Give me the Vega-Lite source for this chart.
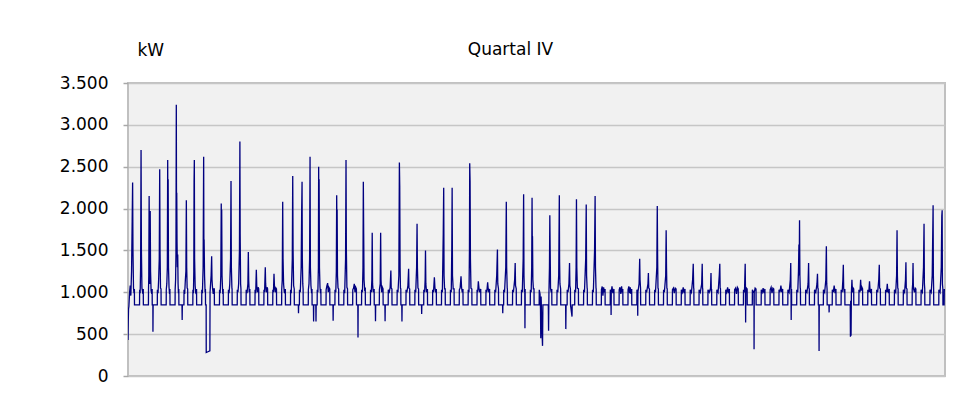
{
"$schema": "https://vega.github.io/schema/vega-lite/v6.json",
"width": 817, "height": 293,
"autosize": {"type": "none"},
"padding": {"left": 128, "top": 83, "right": 8, "bottom": 25},
"background": "white",
"title": {"text": "Quartal IV", "fontSize": 17, "fontWeight": "normal", "font": "DejaVu Sans", "color": "black", "anchor": "middle", "frame": "group", "baseline": "alphabetic", "offset": 0, "dx": -26, "dy": 31},
"config": {"view": {"fill": "#f1f1f1", "stroke": "#c0c0c0", "strokeWidth": 2}},
"data": {"values": [
{"day":0.00,"kW":430},{"day":0.03,"kW":650},{"day":0.06,"kW":800},{"day":0.10,"kW":830},{"day":0.18,"kW":1000},{"day":0.25,"kW":1080},{"day":0.32,"kW":960},{"day":0.40,"kW":1250},{"day":0.47,"kW":1850},{"day":0.52,"kW":2310},{"day":0.56,"kW":1500},{"day":0.62,"kW":1050},{"day":0.68,"kW":990},{"day":0.72,"kW":1040},{"day":0.73,"kW":850},
{"day":1.30,"kW":850},{"day":1.31,"kW":1030},{"day":1.37,"kW":990},{"day":1.42,"kW":1300},{"day":1.47,"kW":2700},{"day":1.51,"kW":1500},{"day":1.57,"kW":1050},{"day":1.68,"kW":980},{"day":1.72,"kW":1040},{"day":1.73,"kW":850},
{"day":2.30,"kW":850},{"day":2.31,"kW":1030},{"day":2.34,"kW":1200},{"day":2.38,"kW":2150},{"day":2.42,"kW":1400},{"day":2.46,"kW":1100},{"day":2.50,"kW":1970},{"day":2.54,"kW":1250},{"day":2.60,"kW":1020},{"day":2.68,"kW":980},{"day":2.72,"kW":1040},{"day":2.73,"kW":850},{"day":2.80,"kW":850},{"day":2.81,"kW":530},{"day":2.83,"kW":850},
{"day":3.30,"kW":850},{"day":3.31,"kW":1030},{"day":3.38,"kW":990},{"day":3.45,"kW":1150},{"day":3.52,"kW":1400},{"day":3.57,"kW":2470},{"day":3.61,"kW":1500},{"day":3.66,"kW":1050},{"day":3.72,"kW":1040},{"day":3.73,"kW":850},
{"day":4.30,"kW":850},{"day":4.31,"kW":1030},{"day":4.37,"kW":1100},{"day":4.43,"kW":1300},{"day":4.47,"kW":2580},{"day":4.50,"kW":1400},{"day":4.52,"kW":2350},{"day":4.56,"kW":1300},{"day":4.62,"kW":1060},{"day":4.68,"kW":980},{"day":4.72,"kW":1040},{"day":4.73,"kW":850},
{"day":5.30,"kW":850},{"day":5.31,"kW":1030},{"day":5.36,"kW":1150},{"day":5.40,"kW":1450},{"day":5.44,"kW":3240},{"day":5.47,"kW":1600},{"day":5.49,"kW":2190},{"day":5.52,"kW":1610},{"day":5.56,"kW":1300},{"day":5.60,"kW":1450},{"day":5.64,"kW":1100},{"day":5.68,"kW":990},{"day":5.72,"kW":1040},{"day":5.73,"kW":850},
{"day":6.08,"kW":850},{"day":6.10,"kW":670},{"day":6.12,"kW":850},{"day":6.30,"kW":850},{"day":6.31,"kW":1030},{"day":6.38,"kW":980},{"day":6.46,"kW":1150},{"day":6.52,"kW":1250},{"day":6.57,"kW":2100},{"day":6.61,"kW":1300},{"day":6.66,"kW":1050},{"day":6.72,"kW":1040},{"day":6.73,"kW":850},
{"day":7.30,"kW":850},{"day":7.31,"kW":1030},{"day":7.37,"kW":990},{"day":7.41,"kW":1250},{"day":7.44,"kW":2330},{"day":7.47,"kW":2580},{"day":7.50,"kW":1400},{"day":7.56,"kW":1080},{"day":7.62,"kW":1000},{"day":7.68,"kW":980},{"day":7.72,"kW":1040},{"day":7.73,"kW":850},
{"day":8.30,"kW":850},{"day":8.31,"kW":1030},{"day":8.38,"kW":990},{"day":8.46,"kW":1300},{"day":8.52,"kW":2620},{"day":8.55,"kW":1400},{"day":8.57,"kW":1630},{"day":8.62,"kW":1200},{"day":8.68,"kW":1000},{"day":8.72,"kW":1040},{"day":8.73,"kW":850},{"day":8.80,"kW":850},{"day":8.81,"kW":280},{"day":9.00,"kW":290},{"day":9.22,"kW":300},
{"day":9.24,"kW":1000},{"day":9.30,"kW":1100},{"day":9.36,"kW":1200},{"day":9.42,"kW":1430},{"day":9.46,"kW":1150},{"day":9.52,"kW":1050},{"day":9.60,"kW":980},{"day":9.66,"kW":1040},{"day":9.72,"kW":1040},{"day":9.73,"kW":850},
{"day":10.30,"kW":850},{"day":10.31,"kW":1030},{"day":10.38,"kW":990},{"day":10.45,"kW":1200},{"day":10.50,"kW":2060},{"day":10.53,"kW":1500},{"day":10.55,"kW":1990},{"day":10.59,"kW":1200},{"day":10.64,"kW":1050},{"day":10.68,"kW":980},{"day":10.72,"kW":1040},{"day":10.73,"kW":850},
{"day":11.30,"kW":850},{"day":11.31,"kW":1030},{"day":11.38,"kW":990},{"day":11.46,"kW":1100},{"day":11.55,"kW":1400},{"day":11.60,"kW":2330},{"day":11.64,"kW":1300},{"day":11.70,"kW":1050},{"day":11.72,"kW":1040},{"day":11.73,"kW":850},
{"day":12.30,"kW":850},{"day":12.31,"kW":1030},{"day":12.38,"kW":1000},{"day":12.46,"kW":1100},{"day":12.55,"kW":1500},{"day":12.60,"kW":2800},{"day":12.63,"kW":1700},{"day":12.68,"kW":1100},{"day":12.72,"kW":1040},{"day":12.73,"kW":850},
{"day":13.30,"kW":850},{"day":13.31,"kW":1030},{"day":13.40,"kW":990},{"day":13.50,"kW":1100},{"day":13.55,"kW":1480},{"day":13.59,"kW":1150},{"day":13.65,"kW":1000},{"day":13.72,"kW":1040},{"day":13.73,"kW":850},
{"day":14.30,"kW":850},{"day":14.31,"kW":1030},{"day":14.38,"kW":990},{"day":14.45,"kW":1270},{"day":14.50,"kW":1080},{"day":14.58,"kW":1000},{"day":14.66,"kW":1060},{"day":14.72,"kW":1040},{"day":14.73,"kW":850},
{"day":15.30,"kW":850},{"day":15.31,"kW":1030},{"day":15.38,"kW":1000},{"day":15.46,"kW":1300},{"day":15.50,"kW":1100},{"day":15.58,"kW":1000},{"day":15.66,"kW":1060},{"day":15.72,"kW":1040},{"day":15.73,"kW":850},
{"day":16.30,"kW":850},{"day":16.31,"kW":1030},{"day":16.38,"kW":1000},{"day":16.44,"kW":1220},{"day":16.49,"kW":1080},{"day":16.58,"kW":1000},{"day":16.66,"kW":1050},{"day":16.72,"kW":1040},{"day":16.73,"kW":850},
{"day":17.30,"kW":850},{"day":17.31,"kW":1030},{"day":17.37,"kW":1150},{"day":17.42,"kW":2080},{"day":17.46,"kW":1400},{"day":17.52,"kW":1100},{"day":17.60,"kW":1000},{"day":17.68,"kW":990},{"day":17.72,"kW":1040},{"day":17.73,"kW":850},
{"day":18.30,"kW":850},{"day":18.31,"kW":1030},{"day":18.38,"kW":990},{"day":18.45,"kW":1200},{"day":18.50,"kW":1400},{"day":18.55,"kW":2390},{"day":18.59,"kW":1500},{"day":18.65,"kW":1080},{"day":18.72,"kW":1040},{"day":18.73,"kW":850},
{"day":19.18,"kW":850},{"day":19.20,"kW":750},{"day":19.22,"kW":850},{"day":19.30,"kW":850},{"day":19.31,"kW":1030},{"day":19.40,"kW":1000},{"day":19.50,"kW":1300},{"day":19.56,"kW":2000},{"day":19.60,"kW":2320},{"day":19.63,"kW":1400},{"day":19.68,"kW":1100},{"day":19.72,"kW":1040},{"day":19.73,"kW":850},
{"day":20.30,"kW":850},{"day":20.31,"kW":1030},{"day":20.38,"kW":1100},{"day":20.45,"kW":1400},{"day":20.50,"kW":2620},{"day":20.54,"kW":1300},{"day":20.60,"kW":1080},{"day":20.68,"kW":990},{"day":20.72,"kW":1040},{"day":20.73,"kW":850},{"day":20.88,"kW":850},{"day":20.90,"kW":650},{"day":20.92,"kW":850},
{"day":21.15,"kW":850},{"day":21.17,"kW":650},{"day":21.19,"kW":850},{"day":21.30,"kW":850},{"day":21.31,"kW":1030},{"day":21.38,"kW":1000},{"day":21.44,"kW":1300},{"day":21.47,"kW":2500},{"day":21.50,"kW":1500},{"day":21.52,"kW":2350},{"day":21.56,"kW":1300},{"day":21.62,"kW":1060},{"day":21.68,"kW":990},{"day":21.72,"kW":1040},{"day":21.73,"kW":850},
{"day":22.30,"kW":850},{"day":22.31,"kW":1030},{"day":22.40,"kW":1080},{"day":22.48,"kW":1110},{"day":22.55,"kW":1000},{"day":22.62,"kW":1060},{"day":22.72,"kW":1040},{"day":22.73,"kW":850},
{"day":23.08,"kW":850},{"day":23.10,"kW":660},{"day":23.12,"kW":850},{"day":23.30,"kW":850},{"day":23.31,"kW":1030},{"day":23.40,"kW":1000},{"day":23.46,"kW":1250},{"day":23.50,"kW":2160},{"day":23.53,"kW":1700},{"day":23.55,"kW":1990},{"day":23.59,"kW":1200},{"day":23.65,"kW":1050},{"day":23.72,"kW":1040},{"day":23.73,"kW":850},
{"day":24.30,"kW":850},{"day":24.31,"kW":1030},{"day":24.40,"kW":990},{"day":24.50,"kW":1400},{"day":24.55,"kW":2580},{"day":24.59,"kW":1500},{"day":24.65,"kW":1060},{"day":24.72,"kW":1040},{"day":24.73,"kW":850},
{"day":25.30,"kW":850},{"day":25.31,"kW":1030},{"day":25.40,"kW":1050},{"day":25.48,"kW":1100},{"day":25.56,"kW":1000},{"day":25.64,"kW":1060},{"day":25.72,"kW":1040},{"day":25.73,"kW":850},{"day":25.88,"kW":850},{"day":25.90,"kW":460},{"day":25.92,"kW":850},
{"day":26.30,"kW":850},{"day":26.31,"kW":1030},{"day":26.40,"kW":1000},{"day":26.46,"kW":1300},{"day":26.50,"kW":2320},{"day":26.54,"kW":1700},{"day":26.58,"kW":1150},{"day":26.65,"kW":1030},{"day":26.72,"kW":1040},{"day":26.73,"kW":850},
{"day":27.30,"kW":850},{"day":27.31,"kW":1030},{"day":27.40,"kW":1000},{"day":27.46,"kW":1150},{"day":27.50,"kW":1710},{"day":27.54,"kW":1100},{"day":27.62,"kW":1000},{"day":27.72,"kW":1040},{"day":27.73,"kW":850},{"day":27.85,"kW":850},{"day":27.87,"kW":655},{"day":27.89,"kW":850},
{"day":28.30,"kW":850},{"day":28.31,"kW":1030},{"day":28.40,"kW":1100},{"day":28.45,"kW":1710},{"day":28.49,"kW":1150},{"day":28.56,"kW":1000},{"day":28.64,"kW":1060},{"day":28.72,"kW":1040},{"day":28.73,"kW":850},{"day":28.93,"kW":850},{"day":28.95,"kW":655},{"day":28.97,"kW":850},
{"day":29.30,"kW":850},{"day":29.31,"kW":1030},{"day":29.40,"kW":990},{"day":29.52,"kW":1060},{"day":29.60,"kW":1260},{"day":29.64,"kW":1050},{"day":29.72,"kW":1040},{"day":29.73,"kW":850},
{"day":30.30,"kW":850},{"day":30.31,"kW":1030},{"day":30.40,"kW":1000},{"day":30.50,"kW":1200},{"day":30.56,"kW":2550},{"day":30.60,"kW":2270},{"day":30.64,"kW":1300},{"day":30.68,"kW":1050},{"day":30.72,"kW":1040},{"day":30.73,"kW":850},{"day":30.83,"kW":850},{"day":30.85,"kW":650},{"day":30.87,"kW":850},
{"day":31.30,"kW":850},{"day":31.31,"kW":1030},{"day":31.40,"kW":1000},{"day":31.52,"kW":1080},{"day":31.60,"kW":1280},{"day":31.64,"kW":1050},{"day":31.72,"kW":1040},{"day":31.73,"kW":850},
{"day":32.30,"kW":850},{"day":32.31,"kW":1030},{"day":32.40,"kW":1000},{"day":32.50,"kW":1300},{"day":32.55,"kW":1820},{"day":32.59,"kW":1300},{"day":32.65,"kW":1050},{"day":32.72,"kW":1040},{"day":32.73,"kW":850},
{"day":33.05,"kW":850},{"day":33.07,"kW":740},{"day":33.09,"kW":850},{"day":33.30,"kW":850},{"day":33.31,"kW":1030},{"day":33.40,"kW":1000},{"day":33.46,"kW":1150},{"day":33.50,"kW":1500},{"day":33.54,"kW":1100},{"day":33.62,"kW":1000},{"day":33.72,"kW":1040},{"day":33.73,"kW":850},
{"day":34.30,"kW":850},{"day":34.31,"kW":1030},{"day":34.40,"kW":1000},{"day":34.50,"kW":1180},{"day":34.56,"kW":1060},{"day":34.64,"kW":1000},{"day":34.72,"kW":1040},{"day":34.73,"kW":850},
{"day":35.30,"kW":850},{"day":35.31,"kW":1030},{"day":35.40,"kW":1000},{"day":35.50,"kW":1700},{"day":35.55,"kW":2250},{"day":35.59,"kW":1200},{"day":35.65,"kW":1040},{"day":35.72,"kW":1040},{"day":35.73,"kW":850},
{"day":36.30,"kW":850},{"day":36.31,"kW":1030},{"day":36.40,"kW":1000},{"day":36.46,"kW":1500},{"day":36.50,"kW":2250},{"day":36.54,"kW":1200},{"day":36.62,"kW":1040},{"day":36.72,"kW":1040},{"day":36.73,"kW":850},
{"day":37.30,"kW":850},{"day":37.31,"kW":1030},{"day":37.40,"kW":1050},{"day":37.50,"kW":1190},{"day":37.56,"kW":1060},{"day":37.64,"kW":1000},{"day":37.72,"kW":1040},{"day":37.73,"kW":850},
{"day":38.30,"kW":850},{"day":38.31,"kW":1030},{"day":38.40,"kW":1000},{"day":38.45,"kW":1500},{"day":38.48,"kW":2540},{"day":38.52,"kW":2330},{"day":38.56,"kW":1400},{"day":38.62,"kW":1050},{"day":38.72,"kW":1040},{"day":38.73,"kW":850},
{"day":39.30,"kW":850},{"day":39.31,"kW":1030},{"day":39.38,"kW":1000},{"day":39.45,"kW":1130},{"day":39.52,"kW":1050},{"day":39.62,"kW":1000},{"day":39.72,"kW":1040},{"day":39.73,"kW":850},
{"day":40.30,"kW":850},{"day":40.31,"kW":1030},{"day":40.40,"kW":1000},{"day":40.50,"kW":1120},{"day":40.56,"kW":1040},{"day":40.64,"kW":1000},{"day":40.72,"kW":1040},{"day":40.73,"kW":850},
{"day":41.30,"kW":850},{"day":41.31,"kW":1030},{"day":41.40,"kW":1000},{"day":41.52,"kW":1200},{"day":41.60,"kW":1510},{"day":41.64,"kW":1100},{"day":41.72,"kW":1040},{"day":41.73,"kW":850},
{"day":42.18,"kW":850},{"day":42.20,"kW":750},{"day":42.22,"kW":850},{"day":42.30,"kW":850},{"day":42.31,"kW":1030},{"day":42.40,"kW":1000},{"day":42.54,"kW":1300},{"day":42.60,"kW":2080},{"day":42.64,"kW":1300},{"day":42.70,"kW":1050},{"day":42.72,"kW":1040},{"day":42.73,"kW":850},
{"day":43.30,"kW":850},{"day":43.31,"kW":1030},{"day":43.40,"kW":1000},{"day":43.54,"kW":1150},{"day":43.60,"kW":1350},{"day":43.64,"kW":1080},{"day":43.72,"kW":1040},{"day":43.73,"kW":850},
{"day":44.30,"kW":850},{"day":44.31,"kW":1030},{"day":44.40,"kW":1000},{"day":44.50,"kW":1400},{"day":44.55,"kW":2170},{"day":44.59,"kW":1200},{"day":44.64,"kW":1000},{"day":44.68,"kW":1020},{"day":44.70,"kW":570},{"day":44.72,"kW":1040},{"day":44.73,"kW":850},
{"day":45.30,"kW":850},{"day":45.31,"kW":1030},{"day":45.40,"kW":1000},{"day":45.46,"kW":1300},{"day":45.50,"kW":2130},{"day":45.53,"kW":1500},{"day":45.55,"kW":1670},{"day":45.59,"kW":1150},{"day":45.65,"kW":1040},{"day":45.72,"kW":1040},{"day":45.73,"kW":850},
{"day":46.30,"kW":850},{"day":46.31,"kW":1030},{"day":46.40,"kW":980},{"day":46.45,"kW":800},{"day":46.48,"kW":450},{"day":46.52,"kW":950},{"day":46.58,"kW":700},{"day":46.64,"kW":470},{"day":46.68,"kW":360},{"day":46.72,"kW":850},
{"day":47.30,"kW":850},{"day":47.33,"kW":850},{"day":47.36,"kW":540},{"day":47.40,"kW":1000},{"day":47.46,"kW":1300},{"day":47.50,"kW":1920},{"day":47.54,"kW":1500},{"day":47.58,"kW":1050},{"day":47.66,"kW":1000},{"day":47.72,"kW":1040},{"day":47.73,"kW":850},
{"day":48.30,"kW":850},{"day":48.31,"kW":1030},{"day":48.40,"kW":1000},{"day":48.50,"kW":1200},{"day":48.57,"kW":2160},{"day":48.60,"kW":1370},{"day":48.64,"kW":1100},{"day":48.72,"kW":1040},{"day":48.73,"kW":850},
{"day":49.28,"kW":850},{"day":49.30,"kW":560},{"day":49.33,"kW":850},{"day":49.45,"kW":850},{"day":49.46,"kW":1030},{"day":49.55,"kW":1000},{"day":49.65,"kW":1100},{"day":49.72,"kW":1350},{"day":49.76,"kW":1080},{"day":49.82,"kW":1040},{"day":49.83,"kW":850},
{"day":50.00,"kW":710},{"day":50.02,"kW":850},{"day":50.30,"kW":850},{"day":50.31,"kW":1030},{"day":50.40,"kW":1000},{"day":50.46,"kW":1300},{"day":50.50,"kW":2110},{"day":50.54,"kW":1300},{"day":50.60,"kW":1050},{"day":50.72,"kW":1040},{"day":50.73,"kW":850},
{"day":51.30,"kW":850},{"day":51.31,"kW":1030},{"day":51.40,"kW":1000},{"day":51.54,"kW":1400},{"day":51.60,"kW":2050},{"day":51.64,"kW":1200},{"day":51.70,"kW":1050},{"day":51.72,"kW":1040},{"day":51.73,"kW":850},
{"day":52.30,"kW":850},{"day":52.31,"kW":1030},{"day":52.40,"kW":1000},{"day":52.54,"kW":1500},{"day":52.60,"kW":2150},{"day":52.64,"kW":1300},{"day":52.70,"kW":1050},{"day":52.72,"kW":1040},{"day":52.73,"kW":850},
{"day":53.30,"kW":850},{"day":53.31,"kW":1030},{"day":53.40,"kW":1070},{"day":53.48,"kW":960},{"day":53.56,"kW":1060},{"day":53.64,"kW":1000},{"day":53.72,"kW":1040},{"day":53.73,"kW":850},
{"day":54.30,"kW":850},{"day":54.31,"kW":1030},{"day":54.38,"kW":1000},{"day":54.40,"kW":730},{"day":54.42,"kW":1000},{"day":54.50,"kW":1070},{"day":54.60,"kW":990},{"day":54.72,"kW":1040},{"day":54.73,"kW":850},
{"day":55.30,"kW":850},{"day":55.31,"kW":1030},{"day":55.40,"kW":1060},{"day":55.50,"kW":980},{"day":55.58,"kW":1070},{"day":55.66,"kW":1000},{"day":55.72,"kW":1040},{"day":55.73,"kW":850},
{"day":56.30,"kW":850},{"day":56.31,"kW":1030},{"day":56.40,"kW":1070},{"day":56.48,"kW":990},{"day":56.56,"kW":1060},{"day":56.64,"kW":980},{"day":56.72,"kW":1040},{"day":56.73,"kW":850},
{"day":57.30,"kW":850},{"day":57.31,"kW":1030},{"day":57.38,"kW":1000},{"day":57.40,"kW":720},{"day":57.42,"kW":1000},{"day":57.55,"kW":1100},{"day":57.62,"kW":1400},{"day":57.66,"kW":1150},{"day":57.72,"kW":1040},{"day":57.73,"kW":850},
{"day":58.30,"kW":850},{"day":58.31,"kW":1030},{"day":58.40,"kW":1000},{"day":58.55,"kW":1100},{"day":58.60,"kW":1230},{"day":58.64,"kW":1050},{"day":58.72,"kW":1040},{"day":58.73,"kW":850},
{"day":59.30,"kW":850},{"day":59.31,"kW":1030},{"day":59.40,"kW":1000},{"day":59.55,"kW":1300},{"day":59.60,"kW":2030},{"day":59.64,"kW":1400},{"day":59.68,"kW":1050},{"day":59.72,"kW":1040},{"day":59.73,"kW":850},
{"day":60.30,"kW":850},{"day":60.31,"kW":1030},{"day":60.40,"kW":1000},{"day":60.55,"kW":1200},{"day":60.60,"kW":1740},{"day":60.64,"kW":1300},{"day":60.68,"kW":1050},{"day":60.72,"kW":1040},{"day":60.73,"kW":850},
{"day":61.30,"kW":850},{"day":61.31,"kW":1030},{"day":61.42,"kW":1050},{"day":61.52,"kW":990},{"day":61.62,"kW":1050},{"day":61.72,"kW":1040},{"day":61.73,"kW":850},
{"day":62.30,"kW":850},{"day":62.31,"kW":1030},{"day":62.42,"kW":1000},{"day":62.52,"kW":1060},{"day":62.62,"kW":990},{"day":62.72,"kW":1040},{"day":62.73,"kW":850},
{"day":63.30,"kW":850},{"day":63.31,"kW":1030},{"day":63.45,"kW":1000},{"day":63.58,"kW":1150},{"day":63.65,"kW":1340},{"day":63.70,"kW":1050},{"day":63.72,"kW":1040},{"day":63.73,"kW":850},
{"day":64.30,"kW":850},{"day":64.31,"kW":1030},{"day":64.45,"kW":1000},{"day":64.60,"kW":1100},{"day":64.66,"kW":1340},{"day":64.70,"kW":1050},{"day":64.72,"kW":1040},{"day":64.73,"kW":850},
{"day":65.30,"kW":850},{"day":65.31,"kW":1030},{"day":65.45,"kW":1000},{"day":65.60,"kW":1050},{"day":65.65,"kW":1230},{"day":65.69,"kW":1000},{"day":65.72,"kW":1040},{"day":65.73,"kW":850},
{"day":66.30,"kW":850},{"day":66.31,"kW":1030},{"day":66.45,"kW":1000},{"day":66.58,"kW":1200},{"day":66.64,"kW":1340},{"day":66.68,"kW":1050},{"day":66.72,"kW":1040},{"day":66.73,"kW":850},
{"day":67.30,"kW":850},{"day":67.31,"kW":1030},{"day":67.42,"kW":1000},{"day":67.52,"kW":1060},{"day":67.62,"kW":990},{"day":67.72,"kW":1040},{"day":67.73,"kW":850},
{"day":68.30,"kW":850},{"day":68.31,"kW":1030},{"day":68.42,"kW":1050},{"day":68.52,"kW":980},{"day":68.62,"kW":1060},{"day":68.72,"kW":1040},{"day":68.73,"kW":850},
{"day":69.30,"kW":850},{"day":69.31,"kW":1030},{"day":69.42,"kW":1000},{"day":69.50,"kW":1340},{"day":69.53,"kW":1050},{"day":69.55,"kW":640},{"day":69.57,"kW":1000},{"day":69.64,"kW":1050},{"day":69.72,"kW":1040},{"day":69.73,"kW":850},
{"day":70.30,"kW":850},{"day":70.31,"kW":1030},{"day":70.45,"kW":1000},{"day":70.49,"kW":1000},{"day":70.50,"kW":320},{"day":70.52,"kW":1000},{"day":70.62,"kW":1050},{"day":70.72,"kW":1040},{"day":70.73,"kW":850},
{"day":71.30,"kW":850},{"day":71.31,"kW":1030},{"day":71.42,"kW":1000},{"day":71.52,"kW":1050},{"day":71.62,"kW":990},{"day":71.72,"kW":1040},{"day":71.73,"kW":850},
{"day":72.30,"kW":850},{"day":72.31,"kW":1030},{"day":72.42,"kW":1060},{"day":72.52,"kW":990},{"day":72.62,"kW":1050},{"day":72.72,"kW":1040},{"day":72.73,"kW":850},
{"day":73.30,"kW":850},{"day":73.31,"kW":1030},{"day":73.42,"kW":1000},{"day":73.52,"kW":1080},{"day":73.62,"kW":1000},{"day":73.72,"kW":1040},{"day":73.73,"kW":850},
{"day":74.30,"kW":850},{"day":74.31,"kW":1030},{"day":74.45,"kW":1000},{"day":74.58,"kW":1150},{"day":74.63,"kW":1350},{"day":74.66,"kW":1000},{"day":74.68,"kW":670},{"day":74.70,"kW":1000},{"day":74.72,"kW":1040},{"day":74.73,"kW":850},
{"day":75.30,"kW":850},{"day":75.31,"kW":1030},{"day":75.42,"kW":1000},{"day":75.50,"kW":1250},{"day":75.55,"kW":1570},{"day":75.58,"kW":1200},{"day":75.62,"kW":1860},{"day":75.66,"kW":1200},{"day":75.70,"kW":1050},{"day":75.72,"kW":1040},{"day":75.73,"kW":850},
{"day":76.30,"kW":850},{"day":76.31,"kW":1030},{"day":76.45,"kW":1000},{"day":76.58,"kW":1100},{"day":76.64,"kW":1350},{"day":76.68,"kW":1050},{"day":76.72,"kW":1040},{"day":76.73,"kW":850},
{"day":77.30,"kW":850},{"day":77.31,"kW":1030},{"day":77.45,"kW":1000},{"day":77.58,"kW":1100},{"day":77.64,"kW":1220},{"day":77.68,"kW":1050},{"day":77.72,"kW":1040},{"day":77.73,"kW":850},{"day":77.80,"kW":850},{"day":77.82,"kW":300},{"day":77.84,"kW":850},
{"day":78.30,"kW":850},{"day":78.31,"kW":1030},{"day":78.45,"kW":1000},{"day":78.58,"kW":1150},{"day":78.64,"kW":1550},{"day":78.68,"kW":1100},{"day":78.72,"kW":1040},{"day":78.73,"kW":850},{"day":78.93,"kW":850},{"day":78.95,"kW":760},{"day":78.97,"kW":850},
{"day":79.30,"kW":850},{"day":79.31,"kW":1030},{"day":79.42,"kW":1000},{"day":79.52,"kW":1080},{"day":79.62,"kW":990},{"day":79.72,"kW":1040},{"day":79.73,"kW":850},
{"day":80.30,"kW":850},{"day":80.31,"kW":1030},{"day":80.42,"kW":1000},{"day":80.50,"kW":1150},{"day":80.55,"kW":1330},{"day":80.59,"kW":1050},{"day":80.66,"kW":1000},{"day":80.72,"kW":1040},{"day":80.73,"kW":850},
{"day":81.30,"kW":850},{"day":81.33,"kW":850},{"day":81.35,"kW":470},{"day":81.38,"kW":900},{"day":81.42,"kW":480},{"day":81.46,"kW":1000},{"day":81.52,"kW":1150},{"day":81.58,"kW":1000},{"day":81.66,"kW":1050},{"day":81.72,"kW":1040},{"day":81.73,"kW":850},
{"day":82.30,"kW":850},{"day":82.31,"kW":1030},{"day":82.42,"kW":1000},{"day":82.50,"kW":1150},{"day":82.56,"kW":1020},{"day":82.64,"kW":1060},{"day":82.72,"kW":1040},{"day":82.73,"kW":850},
{"day":83.30,"kW":850},{"day":83.31,"kW":1030},{"day":83.42,"kW":1000},{"day":83.50,"kW":1130},{"day":83.56,"kW":1020},{"day":83.64,"kW":990},{"day":83.72,"kW":1040},{"day":83.73,"kW":850},
{"day":84.30,"kW":850},{"day":84.31,"kW":1030},{"day":84.42,"kW":1000},{"day":84.54,"kW":1150},{"day":84.60,"kW":1330},{"day":84.64,"kW":1050},{"day":84.72,"kW":1040},{"day":84.73,"kW":850},
{"day":85.30,"kW":850},{"day":85.31,"kW":1030},{"day":85.42,"kW":1000},{"day":85.50,"kW":1100},{"day":85.56,"kW":1020},{"day":85.64,"kW":990},{"day":85.72,"kW":1040},{"day":85.73,"kW":850},
{"day":86.30,"kW":850},{"day":86.31,"kW":1030},{"day":86.45,"kW":1000},{"day":86.55,"kW":1200},{"day":86.60,"kW":1740},{"day":86.64,"kW":1200},{"day":86.68,"kW":1050},{"day":86.72,"kW":1040},{"day":86.73,"kW":850},
{"day":87.30,"kW":850},{"day":87.31,"kW":1030},{"day":87.45,"kW":1000},{"day":87.55,"kW":1150},{"day":87.60,"kW":1360},{"day":87.64,"kW":1050},{"day":87.72,"kW":1040},{"day":87.73,"kW":850},
{"day":88.30,"kW":850},{"day":88.31,"kW":1030},{"day":88.36,"kW":1100},{"day":88.40,"kW":1350},{"day":88.44,"kW":1050},{"day":88.56,"kW":1000},{"day":88.64,"kW":1050},{"day":88.72,"kW":1040},{"day":88.73,"kW":850},
{"day":89.30,"kW":850},{"day":89.31,"kW":1030},{"day":89.45,"kW":1000},{"day":89.58,"kW":1300},{"day":89.64,"kW":1820},{"day":89.68,"kW":1100},{"day":89.72,"kW":1040},{"day":89.73,"kW":850},
{"day":90.30,"kW":850},{"day":90.31,"kW":1030},{"day":90.45,"kW":1000},{"day":90.56,"kW":1200},{"day":90.62,"kW":1700},{"day":90.66,"kW":2040},{"day":90.69,"kW":1200},{"day":90.72,"kW":1040},{"day":90.73,"kW":850},
{"day":91.30,"kW":850},{"day":91.31,"kW":1030},{"day":91.45,"kW":1000},{"day":91.58,"kW":1300},{"day":91.64,"kW":1910},{"day":91.68,"kW":1980},{"day":91.71,"kW":1100},{"day":91.76,"kW":1040},{"day":91.77,"kW":850},{"day":91.90,"kW":850},{"day":91.92,"kW":1030},{"day":92.00,"kW":1030}
]},
"mark": {"type": "line", "color": "#000080", "strokeWidth": 1.3, "clip": true},
"encoding": {
"x": {"field": "day", "type": "quantitative", "scale": {"domain": [0, 92], "nice": false, "zero": false}, "axis": null},
"y": {"field": "kW", "type": "quantitative", "scale": {"domain": [0, 3500], "nice": false},
 "axis": {"values": [0, 500, 1000, 1500, 2000, 2500, 3000, 3500],
  "labelExpr": "replace(format(datum.value, ','), ',', '.')",
  "labelFont": "DejaVu Sans", "labelFontSize": 17, "labelColor": "black",
  "tickColor": "#a8a8a8", "tickSize": 5, "tickWidth": 1.5, "labelPadding": 15,
  "domain": false, "grid": true, "gridColor": "#c6c6c6", "gridWidth": 1.5,
  "title": "kW", "titleAngle": 0, "titleX": 9, "titleY": -28, "titleAlign": "left", "titleBaseline": "alphabetic",
  "titleFont": "DejaVu Sans", "titleFontSize": 17, "titleFontWeight": "normal", "titleColor": "black"}}
}
}
